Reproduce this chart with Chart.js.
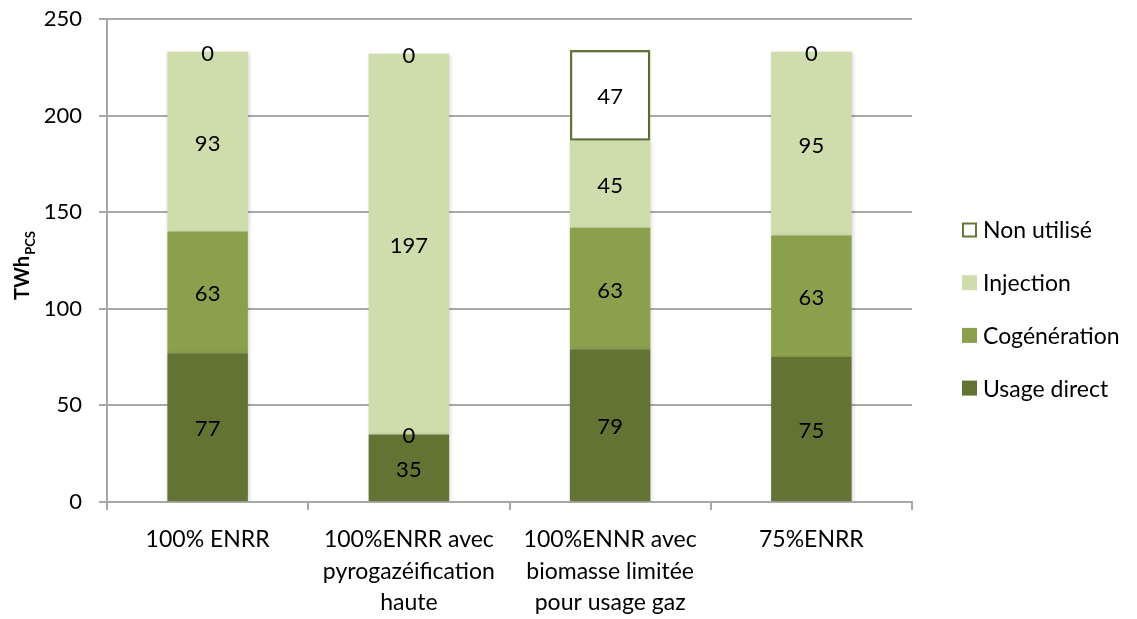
<!DOCTYPE html>
<html lang="fr">
<head>
<meta charset="utf-8">
<title>Usages du biogaz par scénario</title>
<script src="https://cdn.jsdelivr.net/npm/chart.js@4.4.0/dist/chart.umd.min.js"></script>
<style>
    html, body { margin: 0; padding: 0; background: #fff; }
    #wrap { width: 1137px; height: 619px; }
</style>
</head>
<body>
<div id="wrap"><canvas id="chart" width="1137" height="619"></canvas></div>
<script>
// Données (TWh PCS)
const scenarios = [
    ['100% ENRR'],
    ['100%ENRR avec', 'pyrogazéification', 'haute'],
    ['100%ENNR avec', 'biomasse limitée', 'pour usage gaz'],
    ['75%ENRR']
];
const usageDirect = [77, 35, 79, 75];
const cogeneration = [63, 0, 63, 63];
const injection = [93, 197, 45, 95];
const nonUtilise = [0, 0, 47, 0];
const yTicks = [0, 50, 100, 150, 200, 250];

const FONT = 'Lato, "Open Sans", sans-serif';
const GRID = '#a8a8a8';

// Ombre légère sous les barres
const barShadow = {
    id: 'barShadow',
    beforeDatasetsDraw(chart) {
        const ctx = chart.ctx;
        ctx.save();
        ctx.shadowColor = 'rgba(0, 0, 0, 0.18)';
        ctx.shadowBlur = 4;
        ctx.shadowOffsetX = 1;
        ctx.shadowOffsetY = 1;
    },
    afterDatasetsDraw(chart) {
        chart.ctx.restore();
    }
};

// Valeurs au centre de chaque segment
const valueLabels = {
    id: 'valueLabels',
    afterDatasetsDraw(chart) {
        const ctx = chart.ctx;
        ctx.save();
        ctx.font = '22px ' + FONT;
        ctx.fillStyle = '#000';
        ctx.textAlign = 'center';
        ctx.textBaseline = 'middle';
        chart.data.datasets.forEach((ds, i) => {
            chart.getDatasetMeta(i).data.forEach((bar, j) => {
                ctx.fillText(String(ds.data[j]), bar.x, (bar.y + bar.base) / 2 + 2);
            });
        });
        ctx.restore();
    }
};

// Titre de l'axe Y avec indice
const yTitle = {
    id: 'yTitle',
    afterDraw(chart) {
        const ctx = chart.ctx;
        ctx.save();
        ctx.translate(29, 300);
        ctx.rotate(-Math.PI / 2);
        ctx.fillStyle = '#000';
        ctx.textBaseline = 'alphabetic';
        ctx.font = 'bold 20px ' + FONT;
        ctx.fillText('TWh', 0, 0);
        const w = ctx.measureText('TWh').width;
        ctx.font = 'bold 13px ' + FONT;
        ctx.fillText('PCS', w + 1, 6);
        ctx.restore();
    }
};

// Légende à droite, ordre inversé
const sideLegend = {
    id: 'sideLegend',
    afterDraw(chart) {
        const ctx = chart.ctx;
        const items = chart.data.datasets.slice().reverse();
        ctx.save();
        ctx.font = '23px ' + FONT;
        ctx.textBaseline = 'middle';
        items.forEach((ds, k) => {
            const cy = 230 + k * 52.7;
            const bx = 962, size = 15;
            if (ds.legendBorder) {
                ctx.fillStyle = '#fff';
                ctx.fillRect(bx, cy - size / 2, size, size);
                ctx.strokeStyle = ds.legendBorder;
                ctx.lineWidth = 2;
                ctx.strokeRect(bx + 1, cy - size / 2 + 1, size - 2, size - 2);
            } else {
                ctx.fillStyle = ds.backgroundColor;
                ctx.fillRect(bx, cy - size / 2, size, size);
            }
            ctx.fillStyle = '#000';
            ctx.fillText(ds.label, 983, cy + 1);
        });
        ctx.restore();
    }
};

new Chart(document.getElementById('chart'), {
    type: 'bar',
    data: {
        labels: scenarios,
        datasets: [
            { label: 'Usage direct', data: usageDirect, backgroundColor: '#627334', borderWidth: 0 },
            { label: 'Cogénération', data: cogeneration, backgroundColor: '#8ba04c', borderWidth: 0 },
            { label: 'Injection', data: injection, backgroundColor: '#cfdcab', borderWidth: 0 },
            {
                label: 'Non utilisé',
                data: nonUtilise,
                backgroundColor: '#ffffff',
                borderColor: '#657838',
                legendBorder: '#657838',
                borderWidth: ctx => (ctx.raw > 0 ? 2.5 : 0),
                borderSkipped: false
            }
        ]
    },
    options: {
        responsive: false,
        animation: false,
        barPercentage: 0.4,
        categoryPercentage: 1,
        layout: { padding: { top: 19, right: 225, left: 0, bottom: 0 } },
        plugins: {
            legend: { display: false },
            tooltip: { enabled: false }
        },
        scales: {
            x: {
                stacked: true,
                afterFit: scale => { scale.height = 117; },
                grid: { display: true, drawOnChartArea: false, drawTicks: true, tickLength: 8, color: GRID, lineWidth: 2 },
                border: { color: GRID, width: 2 },
                ticks: { color: '#000', font: { family: FONT, size: 23, lineHeight: 1.37 }, padding: 14, maxRotation: 0, autoSkip: false }
            },
            y: {
                stacked: true,
                min: 0,
                max: 250,
                afterFit: scale => {
                    scale.width = 107;
                    scale.paddingTop = 0;
                    scale.paddingBottom = 0;
                },
                afterBuildTicks: scale => { scale.ticks = yTicks.map(v => ({ value: v })); },
                grid: { color: GRID, lineWidth: 2, tickLength: 8 },
                border: { color: GRID, width: 2 },
                ticks: { color: '#000', font: { family: FONT, size: 22 }, padding: 17 }
            }
        }
    },
    plugins: [barShadow, valueLabels, yTitle, sideLegend]
});
</script>
</body>
</html>
